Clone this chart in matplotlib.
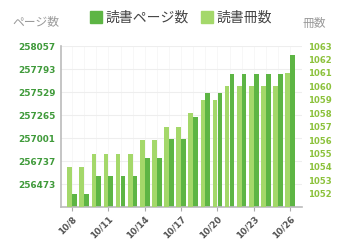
import matplotlib
matplotlib.use("Agg")
import matplotlib.pyplot as plt
from matplotlib.lines import Line2D

plt.rcParams['font.family'] = ['Noto Sans CJK JP', 'DejaVu Sans']

# data
dates = ["10/8", "10/9", "10/10", "10/11", "10/12", "10/13", "10/14", "10/15", "10/16", "10/17",
         "10/18", "10/19", "10/20", "10/21", "10/22", "10/23", "10/24", "10/25", "10/26"]
pages = [256360, 256360, 256565, 256565, 256565, 256565, 256773, 256773, 256990, 256990,
         257240, 257518, 257518, 257734, 257734, 257734, 257734, 257734, 257953]
books = [1054, 1054, 1055, 1055, 1055, 1055, 1056, 1056, 1057, 1057,
         1058, 1059, 1059, 1060, 1060, 1060, 1060, 1060, 1061]
page_ticks = [256473, 256737, 257001, 257265, 257529, 257793, 258057]
book_ticks = list(range(1052, 1064))

dark = "#5db544"
light = "#a4d86a"

fig = plt.figure(figsize=(3.41, 2.50), dpi=100)
ax = fig.add_axes([0.179, 0.171, 0.707, 0.645])
ax2 = ax.twinx()

x = list(range(len(dates)))
ax2.bar([i - 0.2 for i in x], books, width=0.39, color=light, zorder=2)
ax.bar([i + 0.2 for i in x], pages, width=0.39, color=dark, zorder=2)

ax.set_xlim(-0.91, 18.99)
ax.set_ylim(256209, 258057)
ax2.set_ylim(1051, 1063)

ax.set_yticks(page_ticks)
ax.set_yticklabels([str(v) for v in page_ticks], color="#3f9a3a", fontsize=6.4,
                   fontweight="bold", family="DejaVu Sans")
ax2.set_yticks(book_ticks)
ax2.set_yticklabels([str(v) for v in book_ticks], color="#8cc23c", fontsize=6.1,
                    fontweight="bold", family="DejaVu Sans")
ax.tick_params(axis="y", length=0, pad=4)
ax2.tick_params(axis="y", length=0, pad=4)

ax.set_xticks(x[::3])
ax.set_xticklabels(dates[::3], rotation=45, ha="right", rotation_mode="anchor",
                   fontsize=6.3, fontweight="bold", color="#555555", family="DejaVu Sans")
ax.tick_params(axis="x", length=3, color="#aaaaaa", pad=2)

ax.grid(axis="y", color="#eeeeee", linewidth=0.8, zorder=0)
ax.set_axisbelow(True)
for i in x:
    ax.axvline(i, color="#f6f6f6", linewidth=0.6, zorder=0)

for a in (ax, ax2):
    for s in ("top", "right"):
        a.spines[s].set_visible(False)
ax2.spines["left"].set_visible(False)
ax2.spines["bottom"].set_visible(False)
ax.spines["left"].set_color("#bbbbbb")
ax.spines["bottom"].set_color("#bbbbbb")
ax.spines["left"].set_linewidth(1.2)
ax.spines["bottom"].set_linewidth(1.2)

fig.text(0.035, 0.915, "ページ数", color="#999999", fontsize=8.5, va="center")
fig.text(0.888, 0.905, "冊数", color="#999999", fontsize=8.5, va="center")

handles = [Line2D([], [], marker="s", linestyle="", markersize=9, color=dark),
           Line2D([], [], marker="s", linestyle="", markersize=9, color=light)]
fig.legend(handles, ["読書ページ数", "読書冊数"], loc="center", bbox_to_anchor=(0.53, 0.93),
           ncol=2, frameon=False, fontsize=10, handletextpad=0.2, columnspacing=0.8,
           labelcolor="#444444", handlelength=1.0)

fig.savefig("out.png", dpi=100)
